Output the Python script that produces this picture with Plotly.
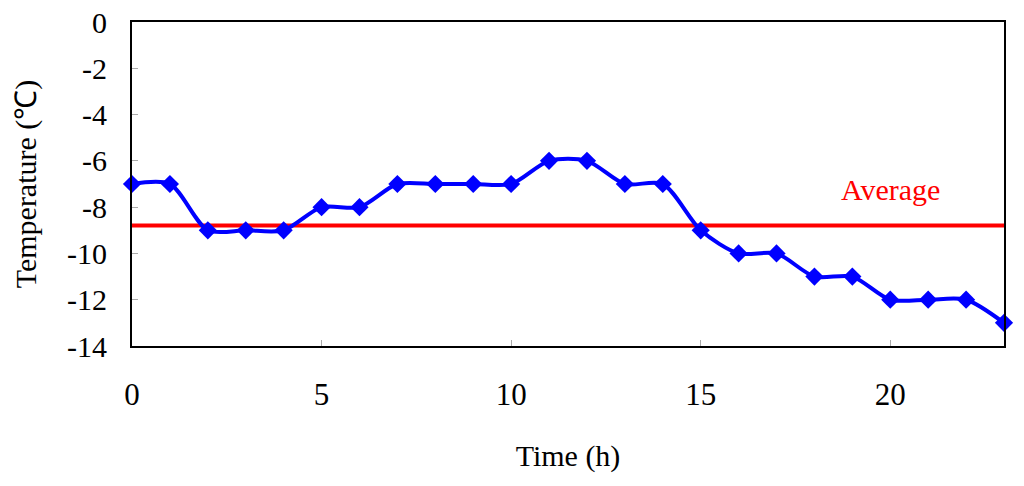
import plotly.graph_objects as go

hours = list(range(24))
temps = [-7, -7, -9, -9, -9, -8, -8, -7, -7, -7, -7, -6, -6, -7, -7, -9, -10, -10, -11, -11, -12, -12, -12, -13]
average = sum(temps) / len(temps)
avg_label = "Average"
avg_label_pos = (20, -7.25)
y_ticks = [0, -2, -4, -6, -8, -10, -12, -14]
y_tick_text = ["0", "-2", "-4", "-6", "-8", "-10", "-12", "-14"]
x_ticks = [0, 5, 10, 15, 20]

FONT = "Liberation Serif, Times New Roman, serif"

fig = go.Figure()
fig.add_trace(go.Scatter(
    x=[0, 23], y=[average, average], mode="lines",
    line=dict(color="#ff0000", width=4), showlegend=False, cliponaxis=False,
))
fig.add_trace(go.Scatter(
    x=hours, y=temps, mode="lines+markers",
    line=dict(color="#0000ff", width=4, shape="spline", smoothing=0.8),
    marker=dict(symbol="diamond", size=14, color="#0000ff"),
    showlegend=False, cliponaxis=False,
))
fig.add_annotation(x=avg_label_pos[0], y=avg_label_pos[1], text=avg_label,
                   showarrow=False, font=dict(family=FONT, size=30, color="#ff0000"))

fig.update_layout(
    width=1024, height=486,
    margin=dict(l=132, r=20, t=22, b=140, autoexpand=False),
    paper_bgcolor="white", plot_bgcolor="white",
    font=dict(family=FONT, size=30, color="black"),
    hovermode=False,
)
fig.update_xaxes(
    range=[0, 23], tickvals=x_ticks, showgrid=False, zeroline=False,
    showline=True, linecolor="black", linewidth=2, mirror=True,
    ticks="inside", ticklen=6, tickcolor="#aaaaaa", tickwidth=1,
    ticklabelstandoff=20, tickfont=dict(family=FONT, size=31),
    ticklabeloverflow="allow", automargin=False,
    title=dict(text="Time (h)", standoff=34, font=dict(family=FONT, size=30)),
)
fig.update_yaxes(
    range=[-14, 0], tickvals=y_ticks, ticktext=y_tick_text,
    showgrid=False, zeroline=False,
    showline=True, linecolor="black", linewidth=2, mirror=True,
    ticks="inside", ticklen=6, tickcolor="#aaaaaa", tickwidth=1,
    ticklabelstandoff=17, tickfont=dict(family=FONT, size=30),
    ticklabeloverflow="allow", automargin=False,
    title=dict(text="Temperature (℃)", standoff=22, font=dict(family=FONT, size=30)),
)

fig.write_html(
    "out.html",
    config={"displayModeBar": False, "staticPlot": True},
    post_script="document.body.style.margin='0';document.body.style.overflow='hidden';",
)
